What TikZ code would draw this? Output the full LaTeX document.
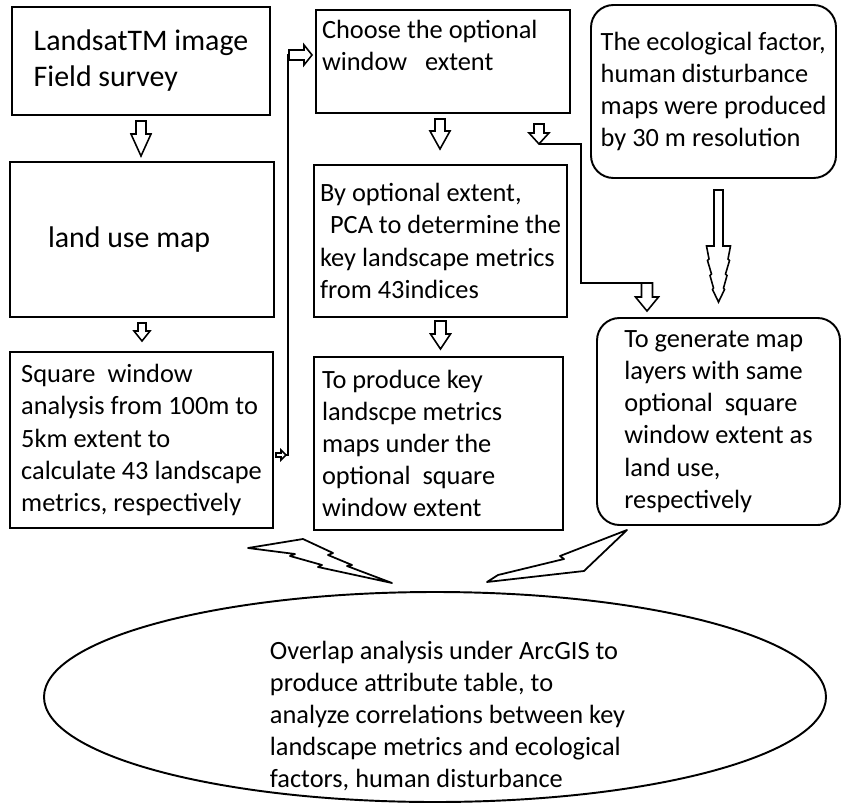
\documentclass[tikz,border=0pt]{standalone}
\usepackage{fontspec}
\setmainfont{Carlito}
\usetikzlibrary{calc, shapes.geometric}
\tikzset{
  box/.style      = {rectangle, draw, line width=1.1pt, inner sep=0pt,
                     align=flush left, font=\fontsize{15}{18.3}\selectfont},
  bigbox/.style   = {box, font=\fontsize{17}{20.5}\selectfont},
  roundbox/.style = {box, rounded corners=0.45cm},
  oval/.style     = {ellipse, draw, line width=1.1pt, inner sep=0pt,
                     minimum width=15.64cm, minimum height=4.2cm},
  txt/.style      = {align=left, inner sep=0pt, font=\fontsize{15}{18.3}\selectfont},
  hollow/.style   = {draw, fill=white, line width=0.9pt, line join=miter},
  link/.style     = {draw, line width=0.9pt},
  bolt/.style     = {draw, line width=1pt, line join=round},
}
% block arrow from #1 down to the height of #2 (half shaft, half head, head length)
\newcommand{\hollowdown}[5]{%
  \draw[hollow] ($(#1)+(-#3,0)$) -- ($(#1 |- #2)+(-#3,#5)$) -- ($(#1 |- #2)+(-#4,#5)$)
    -- (#1 |- #2) -- ($(#1 |- #2)+(#4,#5)$) -- ($(#1 |- #2)+(#3,#5)$)
    -- ($(#1)+(#3,0)$) -- cycle;}
% block arrow from #1 right to the x of #2
\newcommand{\hollowright}[5]{%
  \draw[hollow] ($(#1)+(0,#3)$) -- ($(#2 |- #1)+(-#5,#3)$) -- ($(#2 |- #1)+(-#5,#4)$)
    -- (#2 |- #1) -- ($(#2 |- #1)+(-#5,-#4)$) -- ($(#2 |- #1)+(-#5,-#3)$)
    -- ($(#1)+(0,-#3)$) -- cycle;}

\begin{document}
\begin{tikzpicture}
  \useasboundingbox (0,0) rectangle (16.92,-16.14);

  % left column
  \node[bigbox, minimum width=5.16cm, minimum height=2.16cm] (lsat) at (2.82,-1.22)
       {LandsatTM image\\Field survey};
  \node[bigbox, minimum width=5.28cm, minimum height=3.10cm, text width=3.76cm] (landuse) at (2.84,-4.79)
       {land use map};
  \node[box, minimum width=5.26cm, minimum height=3.52cm] (sqwin) at (2.83,-8.80)
       {Square~ window\\analysis from 100m to\\5km extent to\\calculate 43 landscape\\metrics, respectively};

  % middle column
  \node[box, minimum width=5.08cm, minimum height=2.06cm, text width=4.84cm] (choose) at (8.86,-1.23)
       {Choose the optional\\window~~ extent\\~};
  \node[box, minimum width=5.06cm, minimum height=3.04cm] (pca) at (8.81,-4.82)
       {By optional extent,\\\hspace*{0.2cm}PCA to determine the\\key landscape metrics\\from 43indices};
  \node[box, minimum width=4.98cm, minimum height=3.46cm, text width=4.66cm] (keymaps) at (8.77,-8.87)
       {To produce key\\landscpe metrics\\maps under the\\optional~ square\\window extent};

  % right column
  \node[roundbox, minimum width=4.90cm, minimum height=3.46cm] (eco) at (14.27,-1.83)
       {The ecological factor,\\human disturbance\\maps were produced\\by 30 m resolution};
  \node[roundbox, minimum width=4.86cm, minimum height=4.14cm] (genmap) at (14.37,-8.43)
       {To generate map\\layers with same\\optional~ square\\window extent as\\land use,\\respectively};

  % overlap
  \node[oval] (overlap) at (8.70,-13.94) {};
  \node[txt] (overlaptxt) at ([xshift=0.25cm,yshift=-0.38cm]overlap.center)
       {Overlap analysis under ArcGIS to\\produce attribute table, to\\analyze correlations between key\\landscape metrics and ecological\\factors, human disturbance};

  % straight block arrows
  \coordinate (ab1) at ([yshift=-0.1cm]lsat.south);
  \coordinate (ab2) at ([yshift=0.1cm]landuse.north);
  \hollowdown{ab1}{ab2}{0.1}{0.2}{0.44}
  \coordinate (bc1) at ([yshift=-0.1cm]landuse.south);
  \coordinate (bc2) at ([yshift=0.2cm]sqwin.north);
  \hollowdown{bc1}{bc2}{0.08}{0.16}{0.2}
  \coordinate (de1) at ([xshift=-0.06cm,yshift=-0.1cm]choose.south);
  \coordinate (de2) at ([yshift=0.3cm]pca.north);
  \hollowdown{de1}{de2}{0.1}{0.2}{0.36}
  \coordinate (ef1) at ([yshift=-0.06cm]pca.south);
  \coordinate (ef2) at ([yshift=0.14cm]keymaps.north);
  \hollowdown{ef1}{ef2}{0.11}{0.2}{0.3}

  % square window -> window extent
  \coordinate (cd1) at ([xshift=0.04cm,yshift=-0.3cm]sqwin.east);
  \coordinate (cd2) at ([xshift=0.2cm]cd1);
  \coordinate (cd4) at ([xshift=-0.06cm,yshift=0.13cm]choose.west);
  \coordinate (cd3) at ([xshift=-0.46cm]cd4);
  \draw[link] (cd2) -- ++(0.04,0) |- (cd3);
  \hollowright{cd1}{cd2}{0.04}{0.1}{0.1}
  \hollowright{cd3}{cd4}{0.1}{0.2}{0.16}

  % window extent -> map layers
  \coordinate (dh1) at ([xshift=-0.64cm,yshift=-0.2cm]choose.south east);
  \coordinate (dh2) at ([yshift=-0.4cm]dh1);
  \coordinate (dh3) at ([xshift=-1.43cm,yshift=0.68cm]genmap.north);
  \coordinate (dh4) at ([yshift=0.12cm]genmap.north);
  \draw[link] (dh2) -- ++(0.84,0) |- (dh3);
  \hollowdown{dh1}{dh2}{0.1}{0.2}{0.22}
  \hollowdown{dh3}{dh4}{0.11}{0.23}{0.28}

  % ecological factor -> map layers
  \coordinate (eg1) at ([xshift=0.1cm,yshift=-0.22cm]eco.south);
  \coordinate (eg2) at ([yshift=0.3cm]genmap.north);
  \draw[hollow] ($(eg1)+(-0.09,0)$) -- ($(eg1 |- eg2)+(-0.09,1.12)$) -- ++(-0.15,0)
    -- ++(0.05,-0.26) -- ++(-0.03,-0.03) -- ++(0.08,-0.27) -- ++(-0.03,-0.03)
    -- ++(0.07,-0.25) -- ++(-0.02,-0.03) -- (eg1 |- eg2)
    -- ++(0.12,0.25) -- ++(-0.02,0.03) -- ++(0.07,0.25) -- ++(-0.03,0.03)
    -- ++(0.08,0.27) -- ++(-0.03,0.03) -- ++(0.05,0.26) -- ++(-0.15,0)
    -- ($(eg1)+(0.09,0)$) -- cycle;

  % bolts
  \draw[bolt] (4.96,-10.96) -- (6.06,-10.78) -- (6.66,-11.06) -- (6.56,-11.10) -- (7.04,-11.30)
    -- (6.94,-11.32) -- (7.84,-11.66) -- (6.36,-11.34) -- (6.44,-11.30) -- (5.80,-11.12)
    -- (5.90,-11.08) -- cycle;
  \draw[bolt] (9.74,-11.64) -- (11.68,-11.42) -- (12.54,-10.60) -- (11.20,-11.12)
    -- (11.28,-11.18) -- (9.96,-11.50) -- cycle;

\end{tikzpicture}
\end{document}
